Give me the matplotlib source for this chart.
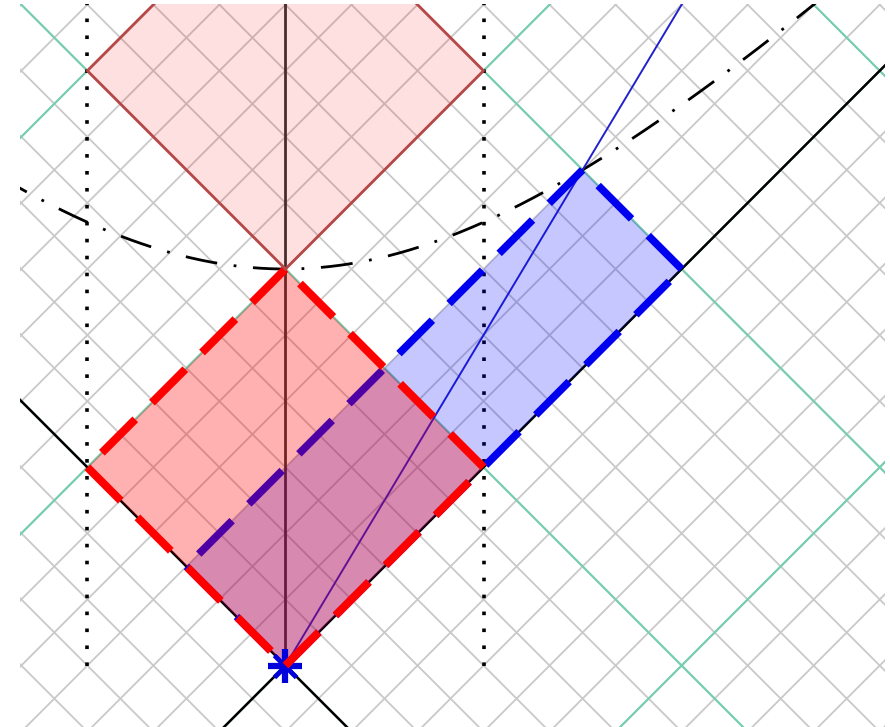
import numpy as np
import matplotlib.pyplot as plt

plt.rcParams['lines.scale_dashes'] = False

# light clock diamond between the events (0,0) and (0,6)
lower_x = [0, 3, 0, -3]
lower_t = [0, 3, 6, 3]
# the following tick of the same clock, (0,6) to (0,12)
upper_x = [0, 3, 0, -3]
upper_t = [6, 9, 12, 9]
# the clock of an observer moving with beta = 0.6 (Doppler factor 2)
beta = 0.6
moving_x = [0, 6, 4.5, -1.5]
moving_t = [0, 6, 7.5, 1.5]
# invariant interval through the tick events
interval = 6.0
mirror_x = [-3, 3]

grid_k = np.arange(-12, 24)          # t + x = k and t - x = k
cone_k = np.arange(-12, 25, 6)       # coarse light-cone lattice

fig = plt.figure(figsize=(8.9, 7.27), dpi=100)
ax = fig.add_axes([20 / 890, 0, 865 / 890, 723 / 727])
ax.set_xlim(-4.02, 9.08)
ax.set_ylim(-0.93, 10.01)
ax.axis('off')

far = np.array([-20, 30])


def diag(k, sign, **kw):
    # sign=+1 : t + x = k,  sign=-1 : t - x = k
    ax.plot(far, k - sign * far, **kw)


for k in grid_k:
    diag(k, 1, color='#c9c9c9', lw=1.3, zorder=1)
    diag(k, -1, color='#c9c9c9', lw=1.3, zorder=1)
for k in cone_k:
    diag(k, 1, color='#74cfae', lw=1.5, zorder=2)
    diag(k, -1, color='#74cfae', lw=1.5, zorder=2)

# light cone through the origin
diag(0, 1, color='black', lw=1.8, zorder=3)
diag(0, -1, color='black', lw=1.8, zorder=3)

# hyperbola t^2 - x^2 = interval^2
hx = np.linspace(-5, 10, 400)
ax.plot(hx, np.sqrt(interval ** 2 + hx ** 2), color='black', lw=2.0,
        linestyle=(0, (23, 12, 2, 12)), zorder=3)

# mirrors of the clock and its worldline
for mx in mirror_x:
    ax.plot([mx, mx], [0, 12], color='black', lw=2.6,
            linestyle=(0, (2.6, 9.6)), zorder=3)
ax.plot([0, 0], [0, 12], color='#333333', lw=2.0, zorder=3)

# worldline of the moving observer
ax.plot([0, beta * 12], [0, 12], color='#2222cc', lw=1.4, zorder=3)

# moving clock
for i in range(4):
    j = (i + 1) % 4
    ax.plot([moving_x[i], moving_x[j]], [moving_t[i], moving_t[j]],
            color='#0000ee', lw=5.5, linestyle=(0, (34, 17)),
            solid_capstyle='butt', dash_capstyle='butt', zorder=4)
ax.fill(moving_x, moving_t, color='#0000ff', alpha=0.22, lw=0, zorder=5)

ax.fill(lower_x, lower_t, color='#ff0000', alpha=0.31, lw=0, zorder=6)
ax.fill(upper_x, upper_t, color='#ff0000', alpha=0.12, lw=0, zorder=6)

ax.plot(0, 0, marker='+', ms=25, mew=4.5, color='#0000dd', zorder=6.5)
ax.plot(0, 0, marker='x', ms=16, mew=3.5, color='#0000dd', zorder=6.5)

for i in range(4):
    j = (i + 1) % 4
    ax.plot([lower_x[i], lower_x[j]], [lower_t[i], lower_t[j]],
            color='#ff0000', lw=5.8, linestyle=(0, (34, 17)),
            dash_capstyle='butt', zorder=7)
ax.plot(upper_x + upper_x[:1], upper_t + upper_t[:1], color='#b84848',
        lw=2.0, zorder=7)

fig.savefig('out.png', dpi=100)
